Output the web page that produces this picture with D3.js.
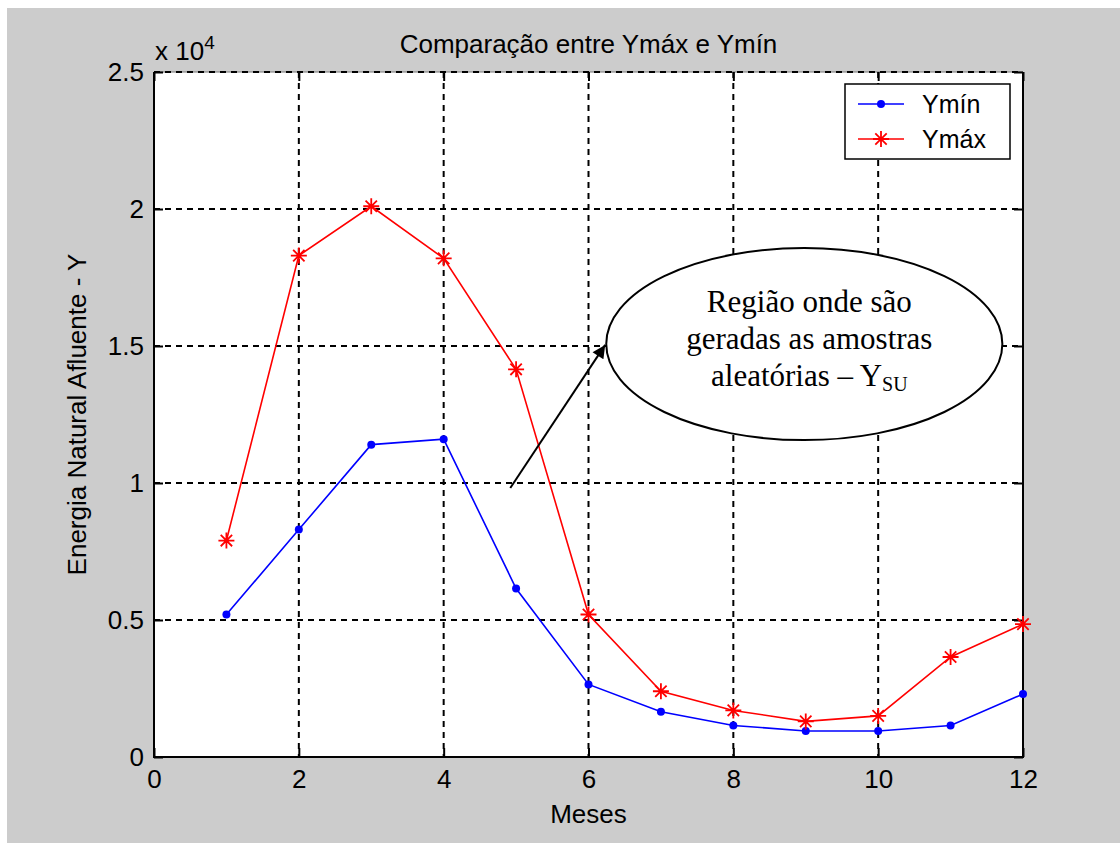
<!DOCTYPE html>
<html>
<head>
<meta charset="utf-8">
<script src="https://d3js.org/d3.v7.min.js"></script>
<style>
body{margin:0;background:#fff;}
text{font-family:'Liberation Sans',Arial,sans-serif;fill:#000;}
</style>
</head>
<body>
<div id="root"></div>
<script>
// data
var months=[1,2,3,4,5,6,7,8,9,10,11,12];
var yMin=[5200,8300,11400,11600,6150,2650,1650,1150,950,950,1150,2300];
var yMax=[7900,18300,20100,18200,14150,5200,2400,1700,1300,1500,3650,4850];
var xTicks=[0,2,4,6,8,10,12];
var yTicks=[0,5000,10000,15000,20000,25000];
var seriesNames=['Ymín','Ymáx'];
var seriesColors=['#0000ff','#ff0000'];
var title='Comparação entre Ymáx e Ymín';
var xLabel='Meses';
var yLabel='Energia Natural Afluente - Y';
var noteLines=['Região onde são','geradas as amostras','aleatórias – Y'];
var noteSub='SU';

var b={t:72,r:97,b:86,l:154};
var W=1120,H=843;
var w=W-b.l-b.r;
var h=H-b.t-b.b;

var svg=d3.select('#root').append('svg')
	.attr('width',W)
	.attr('height',H);

svg.append('rect').attr('width',W).attr('height',H).attr('fill','#fff');
svg.append('rect').attr('x',7).attr('y',8).attr('width',W-7).attr('height',H-8).attr('fill','#cccccc');

var g=svg.append('g').attr('transform','translate('+b.l+','+b.t+')');

var scaleX=d3.scaleLinear().domain([0,12]).range([0,w]);
var scaleY=d3.scaleLinear().domain([0,25000]).range([h,0]);

g.append('rect').attr('width',w).attr('height',h).attr('fill','#fff');

// light top edge, dashed grid drawn over it
g.append('line').attr('x1',0).attr('x2',w).attr('y1',0).attr('y2',0).attr('stroke','#777').attr('stroke-width',1);

g.selectAll('.vgrid').data(xTicks.filter(function(d){return d>0&&d<12})).enter().append('line')
	.attr('class','vgrid')
	.attr('x1',function(d){return scaleX(d)}).attr('x2',function(d){return scaleX(d)})
	.attr('y1',0).attr('y2',h)
	.attr('stroke','#000').attr('stroke-width',2).attr('stroke-dasharray','6,5');

g.selectAll('.hgrid').data(yTicks.filter(function(d){return d>0})).enter().append('line')
	.attr('class','hgrid')
	.attr('y1',function(d){return scaleY(d)}).attr('y2',function(d){return scaleY(d)})
	.attr('x1',0).attr('x2',w)
	.attr('stroke','#000').attr('stroke-width',2).attr('stroke-dasharray','6,5');

// axes, ticks pointing inward
var xAxis=d3.axisBottom(scaleX).tickValues(xTicks).tickSizeInner(-9).tickSizeOuter(0).tickPadding(13);
var yAxis=d3.axisLeft(scaleY).tickValues(yTicks).tickSizeInner(-9).tickSizeOuter(0).tickPadding(10)
	.tickFormat(function(d){return d/10000});
var xTop=d3.axisTop(scaleX).tickValues(xTicks).tickSizeInner(-9).tickSizeOuter(0).tickFormat('');
var yRight=d3.axisRight(scaleY).tickValues(yTicks).tickSizeInner(-9).tickSizeOuter(0).tickFormat('');

function styleAxis(sel){
	sel.select('.domain').remove();
	sel.selectAll('line').attr('stroke','#000').attr('stroke-width',2);
	sel.selectAll('text').style('font-size','26px').attr('fill','#000');
}

g.append('g').attr('transform','translate(0,'+h+')').call(xAxis).call(styleAxis).attr('font-family',null);
g.append('g').call(yAxis).call(styleAxis).attr('font-family',null);
g.append('g').call(xTop).call(styleAxis);
g.append('g').attr('transform','translate('+w+',0)').call(yRight).call(styleAxis);

g.append('path').attr('d','M0,0V'+h+'H'+w+'V0')
	.attr('fill','none').attr('stroke','#000').attr('stroke-width',2);

// series
var line=d3.line()
	.x(function(d){return scaleX(d.m)})
	.y(function(d){return scaleY(d.v)});

var series=[yMin,yMax].map(function(vals,i){
	return {name:seriesNames[i],color:seriesColors[i],values:vals.map(function(v,j){return {m:months[j],v:v}})};
});

g.selectAll('.serie').data(series).enter().append('path')
	.attr('class','serie')
	.attr('d',function(d){return line(d.values)})
	.attr('fill','none').attr('stroke',function(d){return d.color}).attr('stroke-width',1.6);

var s=8,k=5.7;
var starPath='M'+(-s)+',0H'+s+'M0,'+(-s)+'V'+s+'M'+(-k)+','+(-k)+'L'+k+','+k+'M'+(-k)+','+k+'L'+k+','+(-k);

g.selectAll('.dot').data(series[0].values).enter().append('circle')
	.attr('class','dot')
	.attr('cx',function(d){return scaleX(d.m)}).attr('cy',function(d){return scaleY(d.v)})
	.attr('r',4).attr('fill',seriesColors[0]);

g.selectAll('.star').data(series[1].values).enter().append('path')
	.attr('class','star')
	.attr('transform',function(d){return 'translate('+scaleX(d.m)+','+scaleY(d.v)+')'})
	.attr('d',starPath).attr('fill','none').attr('stroke',seriesColors[1]).attr('stroke-width',1.8);

// annotation: ellipse + arrow (data units)
var note={cx:8.98,cy:15070,rx:2.735,ry:3505};
var arrowFrom={m:4.92,v:9820};
var arrowTo={m:6.23,v:15040};

svg.append('defs').append('marker')
	.attr('id','arrow').attr('viewBox','0 0 10 10').attr('refX',10).attr('refY',5)
	.attr('markerUnits','userSpaceOnUse').attr('markerWidth',17).attr('markerHeight',13)
	.attr('orient','auto')
	.append('path').attr('d','M0,0L10,5L0,10z').attr('fill','#000');

g.append('line')
	.attr('x1',scaleX(arrowFrom.m)).attr('y1',scaleY(arrowFrom.v))
	.attr('x2',scaleX(arrowTo.m)).attr('y2',scaleY(arrowTo.v))
	.attr('stroke','#000').attr('stroke-width',2).attr('marker-end','url(#arrow)');

var ecx=scaleX(note.cx),ecy=scaleY(note.cy);
g.append('ellipse')
	.attr('cx',ecx).attr('cy',ecy)
	.attr('rx',scaleX(note.cx+note.rx)-ecx).attr('ry',scaleY(note.cy-note.ry)-ecy)
	.attr('fill','#fff').attr('stroke','#000').attr('stroke-width',2);

var noteText=g.append('g').attr('transform','translate('+(ecx+5)+','+(ecy-32)+')');
noteLines.forEach(function(t,i){
	var tx=noteText.append('text').attr('y',i*37).attr('text-anchor','middle')
		.style('font-family',"'Liberation Serif','Times New Roman',serif").style('font-size','31px').text(t);
	if(i==noteLines.length-1){
		tx.append('tspan').attr('dy',5).style('font-size','20px').text(noteSub);
	}
});

// legend
var legend=svg.append('g').attr('transform','translate(845,84)');
legend.append('rect').attr('width',165).attr('height',75).attr('fill','#fff').attr('stroke','#000').attr('stroke-width',1.5);

var legendG=legend.selectAll('.leg').data(series).enter().append('g')
	.attr('class','leg')
	.attr('transform',function(d,i){return 'translate(0,'+(20+i*35)+')'});

legendG.append('line').attr('x1',13).attr('x2',59).attr('y1',0).attr('y2',0)
	.attr('stroke',function(d){return d.color}).attr('stroke-width',1.6);
legendG.filter(function(d,i){return i==0}).append('circle').attr('cx',36).attr('cy',0).attr('r',4).attr('fill',seriesColors[0]);
legendG.filter(function(d,i){return i==1}).append('path').attr('transform','translate(36,0)')
	.attr('d',starPath).attr('fill','none').attr('stroke',seriesColors[1]).attr('stroke-width',1.8);
legendG.append('text').attr('x',77).attr('y',9).style('font-size','25px').text(function(d){return d.name});

// titles
svg.append('text').attr('x',b.l+w/2).attr('y',53).attr('text-anchor','middle').style('font-size','26px').text(title);
svg.append('text').attr('x',b.l+w/2).attr('y',823).attr('text-anchor','middle').style('font-size','26px').text(xLabel);
svg.append('text').attr('transform','translate(86,'+(b.t+h/2)+') rotate(-90)').attr('text-anchor','middle').style('font-size','26px').text(yLabel);

var mult=svg.append('text').attr('x',155).attr('y',60).style('font-size','26px').text('x 10');
mult.append('tspan').attr('dy',-11).style('font-size','19px').text('4');
</script>
</body>
</html>
